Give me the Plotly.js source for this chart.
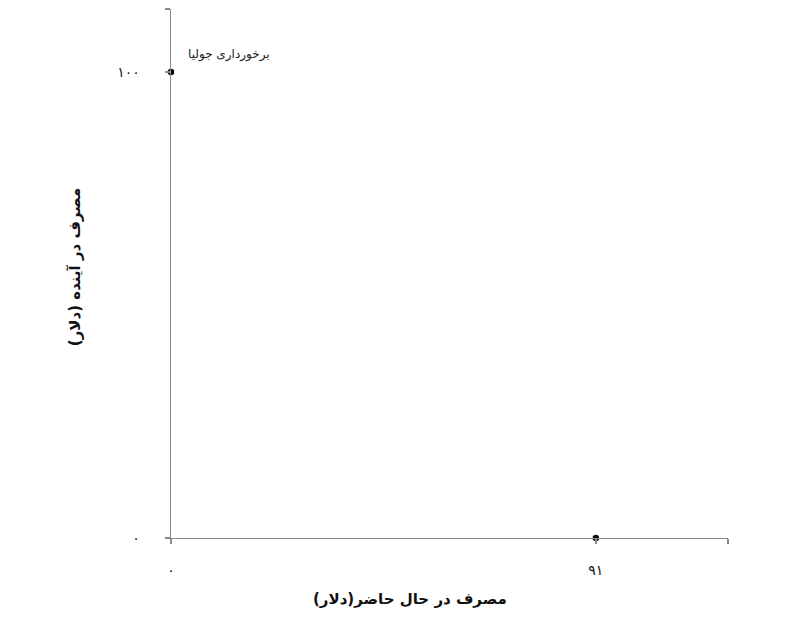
<!DOCTYPE html>
<html>
<head>
<meta charset="utf-8">
<script src="https://cdn.plot.ly/plotly-3.0.1.min.js"></script>
<style>
  html, body { margin: 0; padding: 0; background: #fff; }
  #chart { width: 810px; height: 619px; }
</style>
</head>
<body>
<div id="chart"></div>
<script>
// endowment points: present consumption vs future consumption (dollars)
const presentSpend = [0, 91];
const futureSpend = [100, 0];

const xTickVals = [0, 91];
const xTickText = ['۰', '۹۱'];
const yTickVals = [0, 100];
const yTickText = ['۰', '۱۰۰'];

const xMax = 119.3;
const yMax = 113.5;

const pointLabel = 'برخورداری جولیا';
const xTitle = 'مصرف در حال حاضر(دلار)';
const yTitle = 'مصرف در آینده (دلار)';

const FONT = '"DejaVu Sans", "Noto Sans", sans-serif';
const AXIS_GREY = '#8a8a8a';

const trace = {
    x: presentSpend,
    y: futureSpend,
    mode: 'markers',
    type: 'scatter',
    cliponaxis: false,
    marker: { color: '#111', size: 6.5, line: { width: 0 } },
    hoverinfo: 'skip'
};

// extra tick at the far end of each axis, no label
function endTicks(vals, text, max) {
    return { vals: vals.concat([max * 0.9999]), text: text.concat(['']) };
}
const xt = endTicks(xTickVals, xTickText, xMax);
const yt = endTicks(yTickVals, yTickText, yMax);

const axisBase = {
    showline: true,
    linecolor: AXIS_GREY,
    linewidth: 1.3,
    showgrid: false,
    zeroline: false,
    ticks: 'outside',
    ticklen: 5,
    tickwidth: 1.3,
    tickcolor: AXIS_GREY,
    tickmode: 'array',
    tickfont: { family: FONT, size: 14, color: '#111' },
    fixedrange: true
};

const layout = {
    width: 810,
    height: 619,
    margin: { l: 171, r: 82, t: 9, b: 81 },
    paper_bgcolor: '#fff',
    plot_bgcolor: '#fff',
    showlegend: false,
    xaxis: Object.assign({}, axisBase, {
        range: [0, xMax],
        tickvals: xt.vals,
        ticktext: xt.text,
        ticklabelstandoff: 14
    }),
    yaxis: Object.assign({}, axisBase, {
        range: [0, yMax],
        tickvals: yt.vals,
        ticktext: yt.text,
        ticklabelstandoff: 22
    }),
    annotations: [
        {
            x: presentSpend[0], y: futureSpend[0],
            xref: 'x', yref: 'y',
            text: pointLabel,
            showarrow: false,
            xanchor: 'left',
            xshift: 15, yshift: 17,
            font: { family: FONT, size: 12, color: '#222' }
        },
        {
            x: 0.429, y: 0, xref: 'paper', yref: 'paper',
            text: '<b>' + xTitle + '</b>',
            showarrow: false,
            yanchor: 'middle', yshift: -61,
            font: { family: FONT, size: 15, color: '#111' }
        },
        {
            x: 0, y: 0.512, xref: 'paper', yref: 'paper',
            text: '<b>' + yTitle + '</b>',
            showarrow: false,
            textangle: -90,
            xanchor: 'center', xshift: -96,
            font: { family: FONT, size: 15, color: '#111' }
        }
    ]
};

Plotly.newPlot('chart', [trace], layout, { displayModeBar: false, staticPlot: true });
</script>
</body>
</html>
